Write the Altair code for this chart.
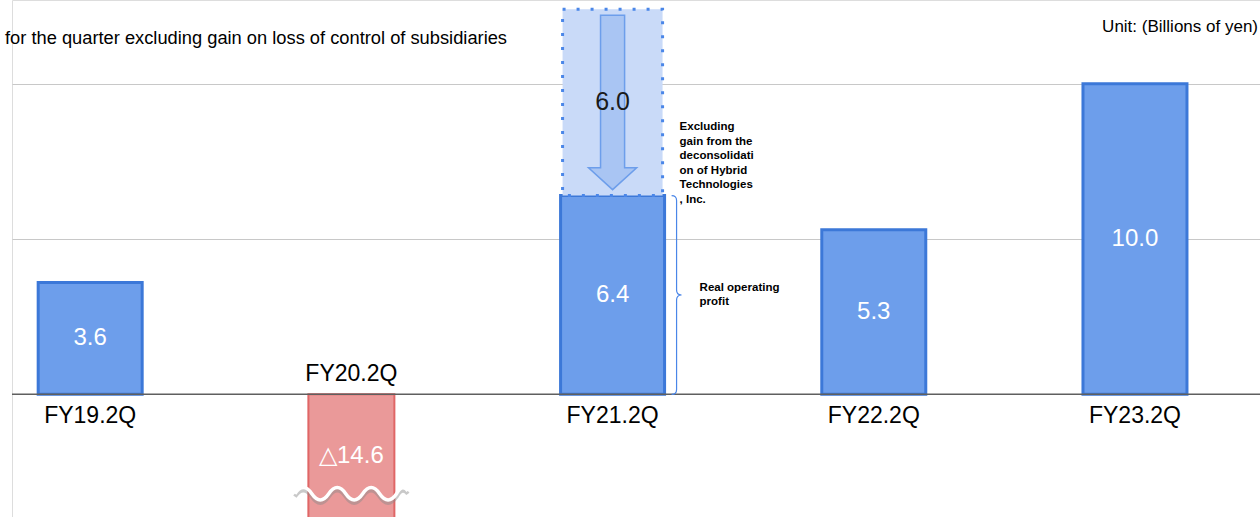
import altair as alt
import pandas as pd

# Operating profit for the second quarter, billions of yen
categories = ["FY19.2Q", "FY20.2Q", "FY21.2Q", "FY22.2Q", "FY23.2Q"]
operating_profit = [3.6, -14.6, 6.4, 5.3, 10.0]
value_labels = ["3.6", "△14.6", "6.4", "5.3", "10.0"]

# One-off gain removed from FY21.2Q
excluded_category = "FY21.2Q"
excluded_gain = 6.0
excluded_label = "6.0"
excluded_note = "Excluding\ngain from the\ndeconsolidati\non of Hybrid\nTechnologies\n, Inc."
real_profit_note = "Real operating\nprofit"

gridline_values = [5, 10]
left_title = "for the quarter excluding gain on loss of control of subsidiaries"
unit_title = "Unit: (Billions of yen)"

W, H = 1248, 517
Y_MIN, Y_MAX = -3.95, 12.7
PX_PER_UNIT = H / (Y_MAX - Y_MIN)
BREAK_AT = -3.2  # where the truncated negative bar gets its wavy break
FONT = "Liberation Sans"
NOTE_LINE = 14.5

BLUE_FILL, BLUE_EDGE = "#6d9eeb", "#3c78d8"
RED_FILL, RED_EDGE = "#ea9999", "#e06666"

df = pd.DataFrame({"category": categories, "value": operating_profit, "label": value_labels})
df["label_y"] = df["value"].clip(lower=Y_MIN) / 2
pos = df[df["value"] >= 0]
neg = df[df["value"] < 0]

base_val = float(df.loc[df["category"] == excluded_category, "value"].iloc[0])
box = pd.DataFrame({
    "category": [excluded_category],
    "base": [base_val],
    "top": [base_val + excluded_gain],
    "mid": [base_val + excluded_gain / 2],
    "label": [excluded_label],
    "note": [excluded_note],
    "real": [real_profit_note],
    "half": [base_val / 2],
})

x_scale = alt.Scale(domain=categories, paddingInner=0.602, paddingOuter=0.19, align=0.264)
x_enc = alt.X("category:N", scale=x_scale, axis=None, sort=categories)
y_scale = alt.Scale(domain=[Y_MIN, Y_MAX], nice=False, zero=False)
y_axis = alt.Axis(grid=True, values=gridline_values, labels=False, ticks=False,
                  domain=False, title=None, gridColor="#c8c8c8", gridWidth=1.2)

pos_bars = alt.Chart(pos).mark_bar(
    fill=BLUE_FILL, stroke=BLUE_EDGE, strokeWidth=3, size=104
).encode(x=x_enc, y=alt.Y("value:Q", scale=y_scale, axis=y_axis), y2=alt.datum(0))

neg_bar = alt.Chart(neg).mark_bar(
    fill=RED_FILL, stroke=RED_EDGE, strokeWidth=2, size=86, clip=True
).encode(x=x_enc, y=alt.Y("value:Q"), y2=alt.datum(0))

zero_rule = alt.Chart(pd.DataFrame({"value": [0]})).mark_rule(
    color="#5f5f5f", strokeWidth=1.5
).encode(y="value:Q")

gain_box = alt.Chart(box).mark_bar(
    fill="#c9daf8", stroke="#4a86e8", strokeWidth=3, strokeDash=[3, 11], size=100
).encode(x=x_enc, y="base:Q", y2="top:Q")

arrow_px = excluded_gain * PX_PER_UNIT - 12
ARROW = "M-0.138,-1 L0.138,-1 L0.138,0.75 L0.276,0.75 L0,1 L-0.276,0.75 L-0.138,0.75 Z"
arrow = alt.Chart(box).mark_point(
    shape=ARROW, size=arrow_px ** 2, filled=True, fill="#a9c5f3",
    stroke="#6d9eeb", strokeWidth=1.5, opacity=1
).encode(x=x_enc, y="mid:Q")

gain_text = alt.Chart(box).mark_text(
    font=FONT, fontSize=25, color="#1a1a1a", baseline="middle"
).encode(x=x_enc, y="mid:Q", text="label:N")

brace_px = base_val * PX_PER_UNIT
BRACE = ("M-0.05,-1 Q0,-1 0,-0.95 L0,-0.05 Q0,0 0.05,0 Q0,0 0,0.05 "
         "L0,0.95 Q0,1 -0.05,1")
brace = alt.Chart(box).mark_point(
    shape=BRACE, size=brace_px ** 2, filled=False, stroke="#4a86e8",
    strokeWidth=1.2, opacity=1, xOffset=64
).encode(x=x_enc, y="half:Q")

# multi-line text is anchored at its first line, so shift each block by hand
note_lines = excluded_note.count("\n")
note_text = alt.Chart(box).mark_text(
    font=FONT, fontSize=11.5, fontWeight="bold", color="#000000", align="left",
    baseline="middle", lineBreak="\n", lineHeight=NOTE_LINE, dx=67,
    dy=4 - note_lines * NOTE_LINE
).encode(x=x_enc, y="base:Q", text="note:N")

real_lines = real_profit_note.count("\n")
real_text = alt.Chart(box).mark_text(
    font=FONT, fontSize=11.5, fontWeight="bold", color="#000000", align="left",
    baseline="middle", lineBreak="\n", lineHeight=NOTE_LINE, dx=87,
    dy=-real_lines * NOTE_LINE / 2
).encode(x=x_enc, y="half:Q", text="real:N")

value_text = alt.Chart(df).mark_text(
    font=FONT, fontSize=24, color="#ffffff", baseline="middle"
).encode(x=x_enc, y="label_y:Q", text="label:N")

cat_below = alt.Chart(pos).mark_text(
    font=FONT, fontSize=23, color="#000000", baseline="middle", dy=22
).encode(x=x_enc, y=alt.datum(0), text="category:N")

cat_above = alt.Chart(neg).mark_text(
    font=FONT, fontSize=23, color="#000000", baseline="middle", dy=-20
).encode(x=x_enc, y=alt.datum(0), text="category:N")

WAVE = ("M-1,0 Q-0.85,-0.22 -0.7,0 T-0.4,0 T-0.1,0 T0.2,0 T0.5,0 T0.8,0 "
        "Q0.9,-0.18 1,-0.05")
brk = neg.assign(brk=BREAK_AT)
wave_shadow = alt.Chart(brk).mark_point(
    shape=WAVE, size=113 ** 2, filled=False, stroke="#8a8a8a", strokeWidth=4,
    opacity=0.45, yOffset=3
).encode(x=x_enc, y="brk:Q")
wave = alt.Chart(brk).mark_point(
    shape=WAVE, size=113 ** 2, filled=False, stroke="#ffffff", strokeWidth=3.5,
    opacity=1
).encode(x=x_enc, y="brk:Q")

title_left = alt.Chart(pd.DataFrame({"t": [left_title]})).mark_text(
    font=FONT, fontSize=18.3, color="#000000", align="left", baseline="alphabetic"
).encode(x=alt.value(-7), y=alt.value(44), text="t:N")

title_unit = alt.Chart(pd.DataFrame({"t": [unit_title]})).mark_text(
    font=FONT, fontSize=17, color="#000000", align="right", baseline="alphabetic"
).encode(x=alt.value(W - 2), y=alt.value(32), text="t:N")

chart = alt.layer(
    pos_bars, neg_bar, zero_rule, gain_box, arrow, gain_text, brace,
    note_text, real_text, value_text, cat_below, cat_above,
    wave_shadow, wave, title_left, title_unit
).properties(
    width=W, height=H,
    autosize=alt.AutoSizeParams(type="none"),
    padding={"left": 12, "top": 0, "right": 0, "bottom": 0},
).configure_view(stroke=None).configure(font=FONT)

chart.save("out.html", embed_options={"renderer": "svg", "actions": False})
